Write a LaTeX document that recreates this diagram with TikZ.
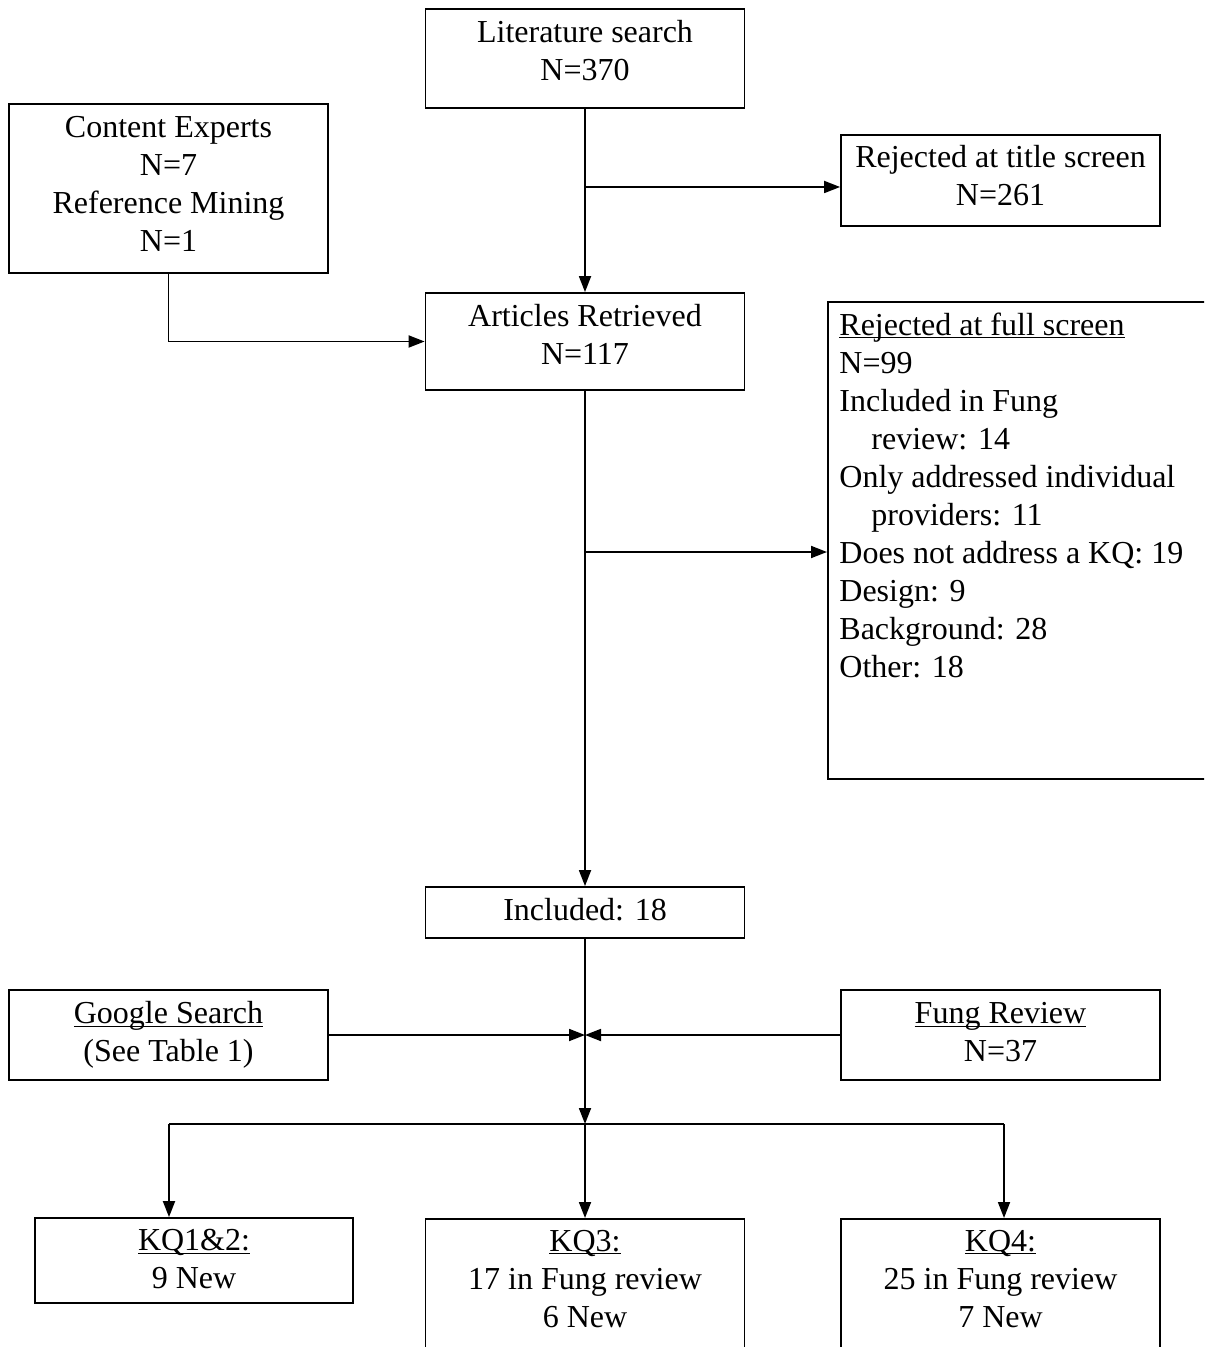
\documentclass[tikz,border=0pt]{standalone}
\usepackage{fontspec}
\setmainfont{Liberation Serif}
\usetikzlibrary{arrows.meta}

\newcommand{\ulin}[1]{\underline{\raisebox{0pt}[\height][0pt]{#1}}}

\tikzset{
	box/.style={draw, line width=0.9pt, inner sep=0pt, minimum width=159.5pt},
	txt/.style={anchor=base, align=center, inner sep=0pt},
	line/.style={line width=0.9pt},
	arr/.style={line width=0.9pt, -{Triangle[length=8pt,width=6pt]}}
}

\begin{document}
\begin{tikzpicture}[x=0.5pt, y=-0.5pt, font=\fontsize{16pt}{19pt}\selectfont]
		\useasboundingbox (0,0) rectangle (1204,1347);
		\clip (0,0) rectangle (1204,1347);
		\node[box, minimum height=49.5pt] (lit) at (585,58.5) {};
		\node[txt] (littxt) at ([yshift=-36pt]lit.north) {Literature search\\N=370};
		\node[box, minimum height=84.5pt] (ce) at (168.5,188.5) {};
		\node[txt] (cetxt) at ([yshift=-74pt]ce.north) {Content Experts\\N=7\\Reference Mining\\N=1};
		\node[box, minimum height=45.5pt] (rejtitle) at (1000.5,180.5) {};
		\node[txt] (rejtitletxt) at ([yshift=-35.5pt]rejtitle.north) {Rejected at title screen\\N=261};
		\node[box, minimum height=48.5pt] (art) at (585,341.5) {};
		\node[txt] (arttxt) at ([yshift=-36pt]art.north) {Articles Retrieved\\N=117};
		\node[box, anchor=north west, minimum width=200pt, minimum height=238.5pt] (rejfull) at (827,301) {};
		\node[anchor=base west, align=left, inner sep=0pt] (rejfulltxt) at ([xshift=6pt,yshift=-188pt]rejfull.north west) {\ulin{Rejected at full screen}\\N=99\\Included in Fung\\\hspace*{1em}review: 14\\Only addressed individual\\\hspace*{1em}providers: 11\\Does not address a KQ: 19\\Design: 9\\Background: 28\\Other: 18};
		\node[box, minimum height=25.5pt] (inc) at (585,912.5) {};
		\node[txt] (inctxt) at ([yshift=-17pt]inc.north) {Included: 18};
		\node[box, minimum height=45pt] (google) at (168.5,1035) {};
		\node[txt] (googletxt) at ([yshift=-36pt]google.north) {\ulin{Google Search}\\(See Table 1)};
		\node[box, minimum height=45pt] (fung) at (1000.5,1035) {};
		\node[txt] (fungtxt) at ([yshift=-36pt]fung.north) {\ulin{Fung Review}\\N=37};
		\node[box, minimum width=159pt, minimum height=42.5pt] (kq12) at (194,1260.5) {};
		\node[txt] (kq12txt) at ([yshift=-35.5pt]kq12.north) {\ulin{KQ1\&2:}\\9 New};
		\node[box, anchor=north, minimum height=100pt] (kq3) at (585,1218) {};
		\node[txt] (kq3txt) at ([yshift=-54.5pt]kq3.north) {\ulin{KQ3:}\\17 in Fung review\\6 New};
		\node[box, anchor=north, minimum height=100pt] (kq4) at (1000.5,1218) {};
		\node[txt] (kq4txt) at ([yshift=-54.5pt]kq4.north) {\ulin{KQ4:}\\25 in Fung review\\7 New};
		\coordinate (t1) at (585,187);
		\coordinate (t2) at (585,552);
		\coordinate (join) at (585,1035);
		\coordinate (split) at (585,1124);
		\coordinate (sl) at (169,1124);
		\coordinate (sr) at (1004,1124);
		\draw[arr] (lit.south) -- (art.north);
		\draw[arr] (t1) -- (t1 -| rejtitle.west);
		\draw[arr] (ce.south) |- (art.west);
		\draw[arr] (art.south) -- (inc.north);
		\draw[arr] (t2) -- (t2 -| rejfull.west);
		\draw[arr] (inc.south) -- (split);
		\draw[arr] (google.east) -- (join);
		\draw[arr] (fung.west) -- (join);
		\draw[line] (sl) -- (sr);
		\draw[arr] (sl) -- (sl |- kq12.north);
		\draw[arr] (split) -- (kq3.north);
		\draw[arr] (sr) -- (sr |- kq4.north);
	\end{tikzpicture}
\end{document}
